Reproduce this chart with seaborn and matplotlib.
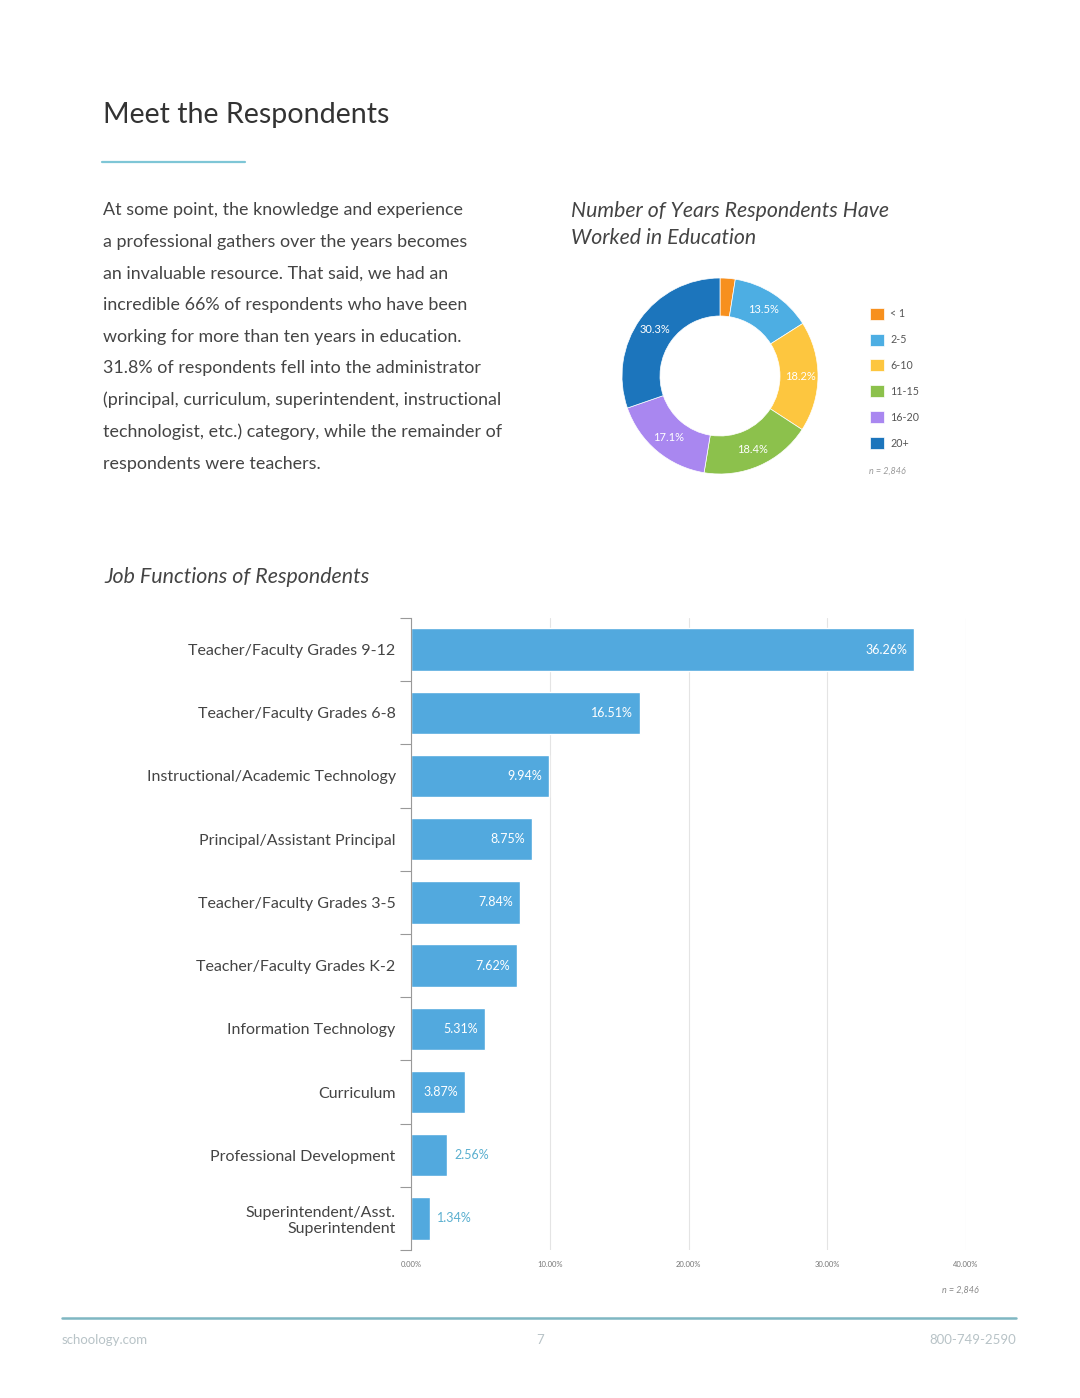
import math
import matplotlib
matplotlib.use("Agg")
import matplotlib.pyplot as plt
import seaborn as sns
import pandas as pd

# donut data
years = ["< 1", "2-5", "6-10", "11-15", "16-20", "20+"]
years_pct = [2.5, 13.5, 18.2, 18.4, 17.1, 30.3]
years_colors = ["#F7901E", "#4DAEE3", "#FDC63F", "#8CC14C", "#A987F0", "#1C75BC"]

# bar data
jobs = ["Teacher/Faculty Grades 9-12", "Teacher/Faculty Grades 6-8",
        "Instructional/Academic Technology", "Principal/Assistant Principal",
        "Teacher/Faculty Grades 3-5", "Teacher/Faculty Grades K-2",
        "Information Technology", "Curriculum", "Professional Development",
        "Superintendent/Asst.\nSuperintendent"]
jobs_pct = [36.26, 16.51, 9.94, 8.75, 7.84, 7.62, 5.31, 3.87, 2.56, 1.34]
x_ticks = [0, 10, 20, 30, 40]

body = ["At some point, the knowledge and experience",
        "a professional gathers over the years becomes",
        "an invaluable resource. That said, we had an",
        "incredible 66% of respondents who have been",
        "working for more than ten years in education.",
        "31.8% of respondents fell into the administrator",
        "(principal, curriculum, superintendent, instructional",
        "technologist, etc.) category, while the remainder of",
        "respondents were teachers."]

sns.set_style("white")
plt.rcParams["font.family"] = ["Lato", "DejaVu Sans"]

W, H = 1080, 1398
fig = plt.figure(figsize=(W / 100, H / 100), dpi=100)
fig.patch.set_facecolor("white")


def fx(px):
    return px / W


def fy(py):
    return 1 - py / H


# header
fig.text(fx(103), fy(123), "Meet the Respondents", fontsize=20.6, color="#333333",
         va="baseline")
fig.add_artist(plt.Line2D([fx(102), fx(245)], [fy(162), fy(162)], color="#7EC6D6", lw=1.6))

for i, line in enumerate(body):
    fig.text(fx(103), fy(215 + i * 31.7), line, fontsize=12.9, color="#444444",
             va="baseline")

# donut
fig.text(fx(571), fy(217), "Number of Years Respondents Have", fontsize=15.3,
         style="italic", color="#444444", va="baseline")
fig.text(fx(571), fy(244), "Worked in Education", fontsize=15.3,
         style="italic", color="#444444", va="baseline")

axd = fig.add_axes([fx(620), fy(476), 200 / W, 200 / H])
wedges, _ = axd.pie(years_pct, colors=years_colors, startangle=90, counterclock=False,
                    radius=0.98, wedgeprops=dict(width=0.38, edgecolor="white", linewidth=0.5))
ang = 90.0
for v, w in zip(years_pct, wedges):
    mid = ang - v * 3.6 / 2
    ang -= v * 3.6
    if v < 5:
        continue
    r = 0.80
    axd.text(r * math.cos(math.radians(mid)), r * math.sin(math.radians(mid)),
             f"{v:.1f}%", ha="center", va="center", fontsize=8, color="white")
axd.set_xlim(-1, 1)
axd.set_ylim(-1, 1)
axd.set_aspect("equal")
axd.axis("off")

fig.legend(wedges, years, loc="upper left", bbox_to_anchor=(fx(860), fy(298)),
           frameon=False, fontsize=7.7, labelspacing=1.3, handlelength=1.35,
           handleheight=1.35, handletextpad=0.6, labelcolor="#555555")
fig.text(fx(869), fy(474), "n = 2,846", fontsize=6.5, style="italic", color="#999999")

# bar chart
fig.text(fx(104), fy(583), "Job Functions of Respondents", fontsize=15.4,
         style="italic", color="#444444", va="baseline")

df = pd.DataFrame({"job": jobs, "pct": jobs_pct})
axb = fig.add_axes([fx(411), fy(1250), (966 - 411) / W, (1250 - 618) / H])
sns.barplot(data=df, x="pct", y="job", orient="h", color="#52A9DE", saturation=1,
            width=0.67, ax=axb)
axb.set_xlim(0, 40)
axb.set_ylim(9.5, -0.5)
axb.set_xlabel("")
axb.set_ylabel("")
axb.set_xticks(x_ticks)
axb.set_xticklabels([f"{t:.2f}%" for t in x_ticks], fontsize=5.5, color="#777777")
axb.tick_params(axis="x", length=0, pad=8)
axb.tick_params(axis="y", which="major", left=True, length=0, pad=11, labelsize=11.5,
                labelcolor="#444444")
axb.set_yticks([i - 0.5 for i in range(11)], minor=True)
axb.tick_params(axis="y", which="minor", left=True, length=8, color="#999999", width=0.8)
axb.grid(axis="x", color="#E4E4E4", lw=0.8)
axb.set_axisbelow(True)
for s in ["top", "right", "bottom"]:
    axb.spines[s].set_visible(False)
axb.spines["left"].set_color("#999999")
axb.spines["left"].set_linewidth(0.8)

for i, v in enumerate(jobs_pct):
    if v > 3:
        axb.text(v - 0.5, i, f"{v:.2f}%", ha="right", va="center", fontsize=9, color="white")
    else:
        axb.text(v + 0.55, i, f"{v:.2f}%", ha="left", va="center", fontsize=9, color="#5AAFCF")

fig.text(fx(979), fy(1290), "n = 2,846", fontsize=6.5, style="italic", color="#888888",
         ha="right", va="center")

# footer
fig.add_artist(plt.Line2D([fx(62), fx(1016)], [fy(1318), fy(1318)], color="#7FB7C2", lw=1.8))
fig.text(fx(62), fy(1340), "schoology.com", fontsize=9.5, color="#B8C3C7", va="center")
fig.text(fx(540), fy(1340), "7", fontsize=9.5, color="#B8C3C7", va="center", ha="center")
fig.text(fx(1016), fy(1340), "800-749-2590", fontsize=9.5, color="#B8C3C7", va="center", ha="right")

fig.savefig("out.png", dpi=100, facecolor="white")
